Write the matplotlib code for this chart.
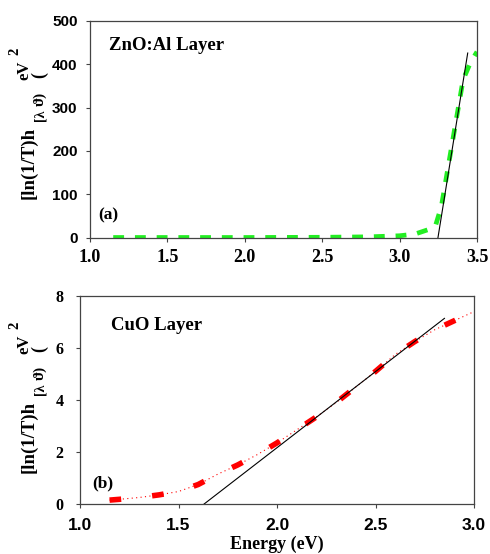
import numpy as np
import matplotlib
import matplotlib.pyplot as plt
matplotlib.use('Agg')

# ZnO:Al layer, (a)
zno_x = [1.15, 1.5, 2.0, 2.5, 2.8, 3.0, 3.1, 3.15, 3.2, 3.23, 3.27, 3.34, 3.41, 3.455, 3.5]
zno_y = [0, 0, 0, 0.5, 1.5, 4, 8, 14, 20, 25, 72, 218, 364, 402, 429]
zno_fit_x = [3.248, 3.44]
zno_fit_y = [0, 426]

# CuO layer, (b)
cuo_x = [1.15, 1.2, 1.3, 1.4, 1.5, 1.6, 1.7, 1.8, 1.9, 2.0, 2.1, 2.2, 2.3, 2.4, 2.5,
         2.6, 2.7, 2.8, 2.9, 3.0]
cuo_y = [0.15, 0.18, 0.25, 0.35, 0.48, 0.75, 1.15, 1.5, 1.9, 2.35, 2.85, 3.35, 3.9,
         4.5, 5.1, 5.75, 6.25, 6.7, 7.05, 7.4]
cuo_fit_x = [1.63, 2.85]
cuo_fit_y = [0, 7.14]

W, H = 490, 554
fig = plt.figure(figsize=(W / 100, H / 100), dpi=100)


def px(x, y):
    return x / W, 1 - y / H


serif = 'Liberation Serif'
sans = 'Liberation Sans'


def style_axes(ax, xfont, xsize, yfont, ysize):
    for s in ax.spines.values():
        s.set_color('#444444')
        s.set_linewidth(0.9)
    ax.tick_params(direction='out', length=3, width=0.8, color='#444444')
    for lab in ax.get_xticklabels():
        lab.set_fontfamily(xfont)
        lab.set_fontweight('bold')
        lab.set_fontsize(xsize)
    for lab in ax.get_yticklabels():
        lab.set_fontfamily(yfont)
        lab.set_fontweight('bold')
        lab.set_fontsize(ysize)


# ---- top panel
ax1 = fig.add_axes([90 / W, 1 - 237.5 / H, 387 / W, 216.5 / H])
ax1.plot(zno_x, zno_y, color='#22ee22', lw=3.4, linestyle=(0, (2.3, 2.3)),
         dash_capstyle='butt')
ax1.plot(zno_fit_x, zno_fit_y, color='black', lw=0.8)
ax1.set_xlim(1.0, 3.5)
ax1.set_ylim(0, 500)
ax1.set_xticks([1.0, 1.5, 2.0, 2.5, 3.0, 3.5])
ax1.set_xticklabels(['1.0', '1.5', '2.0', '2.5', '3.0', '3.5'])
ax1.set_yticks([0, 100, 200, 300, 400, 500])
ax1.tick_params(axis='x', pad=5)
ax1.tick_params(axis='y', pad=6)
style_axes(ax1, serif, 13, sans, 11)
ax1.text(0.05, 0.885, 'ZnO:Al Layer', transform=ax1.transAxes, fontfamily=serif,
         fontweight='bold', fontsize=13.5, va='center')
ax1.text(0.022, 0.1, '(a)', transform=ax1.transAxes, fontfamily=serif,
         fontweight='bold', fontsize=12.5, va='center')

# ---- bottom panel
ax2 = fig.add_axes([80 / W, 1 - 504 / H, 394 / W, 208 / H])
ax2.plot(cuo_x, cuo_y, color='red', lw=0.8, linestyle=(0, (1, 3)))
ax2.plot(cuo_x, cuo_y, color='red', lw=4, linestyle=(0, (2.1, 5.6)),
         dash_capstyle='butt')
ax2.plot(cuo_fit_x, cuo_fit_y, color='black', lw=0.8)
ax2.set_xlim(1.0, 3.0)
ax2.set_ylim(0, 8)
ax2.set_xticks([1.0, 1.5, 2.0, 2.5, 3.0])
ax2.set_xticklabels(['1.0', '1.5', '2.0', '2.5', '3.0'])
ax2.set_yticks([0, 2, 4, 6, 8])
ax2.tick_params(axis='x', pad=7)
ax2.tick_params(axis='y', pad=9)
style_axes(ax2, sans, 12.5, serif, 11.5)
ax2.text(0.078, 0.86, 'CuO Layer', transform=ax2.transAxes, fontfamily=serif,
         fontweight='bold', fontsize=13.5, va='center')
ax2.text(0.03, 0.1, '(b)', transform=ax2.transAxes, fontfamily=serif,
         fontweight='bold', fontsize=12.5, va='center')
ax2.set_xlabel('Energy (eV)', fontfamily=serif, fontweight='bold', fontsize=13,
               labelpad=2)


# ---- garbled y labels (pieces)
def ylabel_pieces(dy):
    kw = dict(rotation=90, ha='center', va='center', fontfamily=serif,
              fontweight='bold')
    fig.text(*px(29, 163 + dy), '[ln(1/T)h', fontsize=13.5, **kw)
    fig.text(*px(40, 115 + dy), '[\u03bb', fontsize=10, **kw)
    fig.text(*px(40, 99 + dy), '\u03d1)', fontsize=11, **kw)
    fig.text(*px(24, 70 + dy), 'eV', fontsize=12, **kw)
    fig.text(*px(15, 51 + dy), '2', fontsize=10.5, **kw)
    fig.text(*px(40, 75 + dy), '(', fontsize=13, **kw)


ylabel_pieces(0)
ylabel_pieces(274)

fig.savefig('out.png', dpi=100)
